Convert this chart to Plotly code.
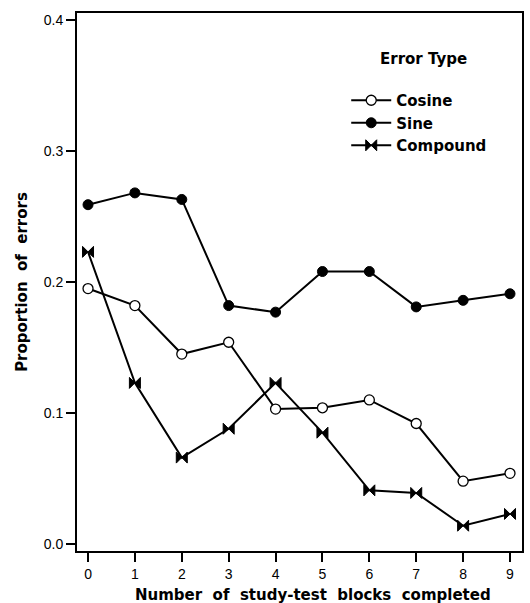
import plotly.graph_objects as go

blocks = [0, 1, 2, 3, 4, 5, 6, 7, 8, 9]
cosine = [0.195, 0.182, 0.145, 0.154, 0.103, 0.104, 0.110, 0.092, 0.048, 0.054]
sine = [0.259, 0.268, 0.263, 0.182, 0.177, 0.208, 0.208, 0.181, 0.186, 0.191]
compound = [0.223, 0.123, 0.066, 0.088, 0.123, 0.085, 0.041, 0.039, 0.014, 0.023]
y_ticks = [0.0, 0.1, 0.2, 0.3, 0.4]
y_tick_labels = ["0.0", "0.1", "0.2", "0.3", "0.4"]

FONT = "Liberation Sans, Arial, sans-serif"
BFONT = "DejaVu Sans, Liberation Sans, sans-serif"
SP = "\u00a0"

fig = go.Figure()
fig.add_trace(go.Scatter(
    x=blocks, y=cosine, name="<b>Cosine</b>", mode="lines+markers",
    line=dict(color="black", width=2),
    marker=dict(symbol="circle", size=10, color="white", line=dict(color="black", width=1.3)),
))
fig.add_trace(go.Scatter(
    x=blocks, y=sine, name="<b>Sine</b>", mode="lines+markers",
    line=dict(color="black", width=2),
    marker=dict(symbol="circle", size=10, color="black", line=dict(color="black", width=1)),
))
fig.add_trace(go.Scatter(
    x=blocks, y=compound, name="<b>Compound</b>", mode="lines+markers",
    line=dict(color="black", width=2),
    marker=dict(symbol="bowtie", size=11, color="black", line=dict(color="black", width=1)),
))

fig.update_layout(
    width=530, height=603,
    margin=dict(l=77, r=8, t=13, b=52),
    paper_bgcolor="white", plot_bgcolor="white",
    font=dict(family=FONT, color="black"),
    showlegend=True,
    legend=dict(
        x=0.605, y=0.868, xanchor="left", yanchor="top",
        font=dict(size=15, family=BFONT, color="black"),
        bgcolor="rgba(0,0,0,0)", borderwidth=0,
        tracegroupgap=0, itemwidth=40,
    ),
    annotations=[
        dict(
            text="<b>Error" + SP + "Type</b>", x=0.778, y=0.915, xref="paper", yref="paper",
            xanchor="center", yanchor="middle", showarrow=False,
            font=dict(size=15, family=BFONT, color="black"),
        ),
        dict(
            text="<b>Number" + SP * 2 + "of" + SP * 2 + "study-test" + SP * 2 + "blocks" + SP * 2 + "completed</b>",
            x=0.530, y=-0.0818, xref="paper", yref="paper",
            xanchor="center", yanchor="middle", showarrow=False,
            font=dict(size=15, family=BFONT, color="black"),
        ),
    ],
)
fig.update_xaxes(
    range=[-0.235, 9.256], tickvals=blocks, ticktext=[str(b) for b in blocks],
    showline=True, linecolor="black", linewidth=2, mirror=True,
    ticks="outside", ticklen=9, tickwidth=1.5, tickcolor="black",
    showgrid=False, zeroline=False, automargin=False,
    tickfont=dict(size=14, family=FONT),
)
fig.update_yaxes(
    range=[-0.0053, 0.4053], tickvals=y_ticks, ticktext=y_tick_labels,
    showline=True, linecolor="black", linewidth=2, mirror=True,
    ticks="outside", ticklen=9, tickwidth=1.5, tickcolor="black",
    showgrid=False, zeroline=False, automargin=False,
    tickfont=dict(size=14, family=FONT),
    title=dict(text="<b>Proportion" + SP * 2 + "of" + SP * 2 + "errors</b>", font=dict(size=15, family=BFONT), standoff=12),
)

fig.write_html("out.html")
